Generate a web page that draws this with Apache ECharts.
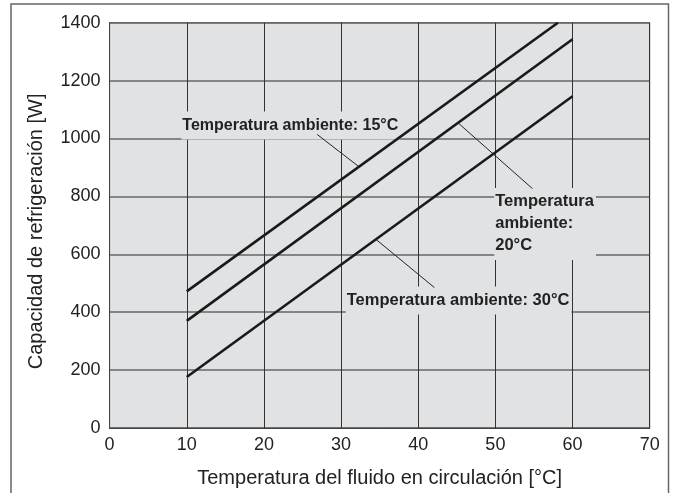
<!DOCTYPE html>
<html><head><meta charset="utf-8">
<script src="https://cdn.jsdelivr.net/npm/echarts@6/dist/echarts.min.js"></script>
<style>html,body{margin:0;padding:0;background:#fff}#c{width:674px;height:493px}</style>
</head><body><div id="c"></div>
<script>
const xTicks = [0, 10, 20, 30, 40, 50, 60, 70];
const yTicks = [0, 200, 400, 600, 800, 1000, 1200, 1400];
const seriesNames = ['Temperatura ambiente: 15°C', 'Temperatura ambiente: 20°C', 'Temperatura ambiente: 30°C'];
const amb15 = [[10, 472], [58.1, 1400]];
const amb20 = [[10, 370], [60, 1343]];
const amb30 = [[10, 176], [60, 1146]];
// annotation anchors in data coordinates
const label15 = [9.3, 1045];
const leader15 = [[26.9, 1014], [32.2, 905]];
const label20 = [49.85, 705];
const leader20 = [[45.2, 1053], [54.8, 827]];
const label30 = [30.6, 440];
const leader30 = [[34.5, 652], [42.1, 485]];

const chart = echarts.init(document.getElementById('c'), null, {renderer: 'canvas'});
const labFont = "'Liberation Sans',Arial,sans-serif";
const plotBg = '#e1e2e4';

function annot(pos, text, size) {
  return {
    coord: pos, symbol: 'rect', symbolSize: 0,
    label: {
      show: true, formatter: text, position: 'inside', offset: [0, 0],
      align: 'left', verticalAlign: 'middle',
      fontFamily: labFont, fontWeight: 'bold', fontSize: size, color: '#222',
      lineHeight: 22, backgroundColor: plotBg, padding: [3, 2, 3, 1]
    }
  };
}
function lineSeries(name, data, lab, leader, text, size) {
  return {
    name: name, type: 'line', data: data, showSymbol: false, symbol: 'none',
    lineStyle: {color: '#1a1a1a', width: 2.6}, z: 4, silent: true,
    markLine: {
      silent: true, symbol: 'none', animation: false, z: 3,
      lineStyle: {color: '#222', width: 1, type: 'solid'},
      label: {show: false},
      data: [[{coord: leader[0]}, {coord: leader[1]}]]
    },
    markPoint: {
      silent: true, animation: false, z: 2,
      data: [annot(lab, text, size)]
    }
  };
}

chart.setOption({
  animation: false,
  backgroundColor: '#fff',
  grid: {left: 109.6, right: 24.3, top: 22.7, bottom: 63, show: true,
         backgroundColor: plotBg, borderColor: '#444', borderWidth: 1},
  graphic: [{type: 'rect', shape: {x: 11, y: 4, width: 657.5, height: 520},
             style: {fill: 'none', stroke: '#666', lineWidth: 1.5}, z: 0}],
  xAxis: {
    type: 'value', min: 0, max: 70, interval: 10,
    name: 'Temperatura del fluido en circulación [°C]', nameLocation: 'middle', nameGap: 40,
    nameTextStyle: {fontFamily: 'Liberation Sans', fontSize: 20, color: '#222'},
    axisLine: {show: true, lineStyle: {color: '#444', width: 1}},
    axisTick: {show: false},
    axisLabel: {fontFamily: 'Liberation Sans', fontSize: 18, color: '#222', margin: 8,
                formatter: v => xTicks.includes(v) ? String(v) : ''},
    splitLine: {show: true, lineStyle: {color: '#333', width: 1}}
  },
  yAxis: {
    type: 'value', min: 0, max: 1400, interval: 200,
    name: 'Capacidad de refrigeración [W]', nameLocation: 'middle', nameGap: 63,
    nameTextStyle: {fontFamily: 'Liberation Sans', fontSize: 20, color: '#222', padding: [0, 12, 0, 0]},
    axisLine: {show: true, lineStyle: {color: '#444', width: 1}},
    axisTick: {show: false},
    axisLabel: {fontFamily: 'Liberation Sans', fontSize: 18, color: '#222', margin: 9,
                formatter: v => yTicks.includes(v) ? String(v) : ''},
    splitLine: {show: true, lineStyle: {color: '#666', width: 1.6}}
  },
  series: [
    lineSeries(seriesNames[0], amb15, label15, leader15, 'Temperatura ambiente: 15°C', 16),
    lineSeries(seriesNames[1], amb20, label20, leader20, 'Temperatura\nambiente:\n20°C', 16.5),
    lineSeries(seriesNames[2], amb30, label30, leader30, 'Temperatura ambiente: 30°C', 16.5)
  ]
});
</script></body></html>
